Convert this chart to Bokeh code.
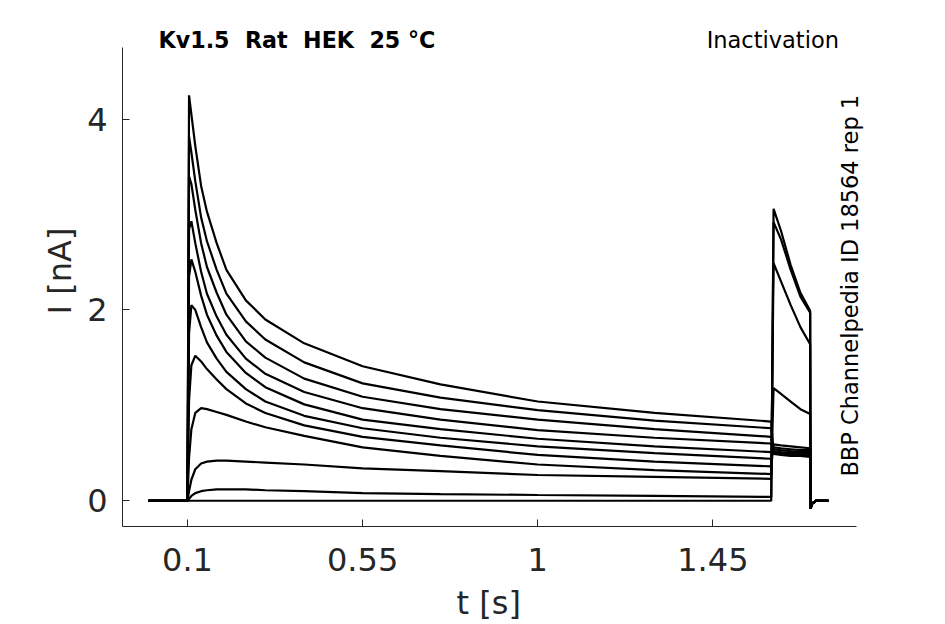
import math
from bokeh.plotting import figure
from bokeh.models import Range1d, FixedTicker, Label
from bokeh.embed import file_html
from bokeh.resources import INLINE

# ---------------- data ----------------
# time grid of the 1.5 s conditioning step (s)
t_pre = [0.100, 0.104, 0.110, 0.120, 0.135, 0.150, 0.175, 0.200, 0.250,
         0.300, 0.400, 0.550, 0.750, 1.000, 1.300, 1.600]
# current during conditioning step (nA), one list per sweep
pre_1 = [0, 4.25, 4.05, 3.72, 3.30, 3.03, 2.70, 2.42, 2.10, 1.90, 1.65, 1.41, 1.22, 1.04, 0.92, 0.83]
pre_2 = [0, 3.82, 3.65, 3.35, 2.97, 2.72, 2.42, 2.17, 1.88, 1.69, 1.45, 1.23, 1.08, 0.95, 0.84, 0.76]
pre_3 = [0, 3.40, 3.32, 3.05, 2.70, 2.45, 2.18, 1.95, 1.67, 1.50, 1.28, 1.09, 0.96, 0.85, 0.75, 0.67]
pre_4 = [0, 2.85, 2.93, 2.70, 2.40, 2.17, 1.93, 1.74, 1.49, 1.33, 1.14, 0.97, 0.85, 0.74, 0.66, 0.60]
pre_5 = [0, 2.35, 2.53, 2.40, 2.15, 1.95, 1.73, 1.56, 1.34, 1.19, 1.01, 0.85, 0.75, 0.65, 0.57, 0.51]
pre_6 = [0, 1.75, 2.05, 2.00, 1.82, 1.66, 1.49, 1.35, 1.17, 1.04, 0.89, 0.76, 0.66, 0.57, 0.50, 0.44]
pre_7 = [0, 1.05, 1.42, 1.52, 1.46, 1.38, 1.27, 1.17, 1.02, 0.92, 0.79, 0.67, 0.58, 0.48, 0.41, 0.36]
pre_8 = [0, 0.45, 0.75, 0.92, 0.97, 0.96, 0.93, 0.90, 0.83, 0.77, 0.68, 0.56, 0.47, 0.38, 0.32, 0.28]
pre_9 = [0, 0.10, 0.22, 0.33, 0.39, 0.41, 0.42, 0.42, 0.41, 0.40, 0.38, 0.34, 0.31, 0.27, 0.25, 0.23]
pre_10 = [0, 0.02, 0.05, 0.08, 0.10, 0.11, 0.12, 0.12, 0.12, 0.11, 0.10, 0.08, 0.07, 0.06, 0.05, 0.04]
pre_11 = [0, 0.00, 0.00, 0.00, 0.00, 0.00, 0.00, 0.00, 0.00, 0.00, 0.00, 0.00, 0.00, 0.00, 0.00, 0.00]

# time grid of the test pulse (s)
t_test = [1.606, 1.625, 1.650, 1.675, 1.700]
test_1 = [0.49, 0.48, 0.47, 0.47, 0.46]
test_2 = [0.50, 0.49, 0.48, 0.48, 0.47]
test_3 = [0.51, 0.50, 0.49, 0.49, 0.48]
test_4 = [0.52, 0.51, 0.50, 0.50, 0.49]
test_5 = [0.54, 0.53, 0.52, 0.51, 0.51]
test_6 = [0.56, 0.55, 0.54, 0.53, 0.53]
test_7 = [0.59, 0.58, 0.57, 0.56, 0.55]
test_8 = [1.18, 1.12, 1.04, 0.96, 0.91]
test_9 = [2.49, 2.30, 2.05, 1.82, 1.64]
test_10 = [2.92, 2.74, 2.42, 2.14, 1.97]
test_11 = [3.06, 2.83, 2.47, 2.18, 1.99]

# holding before the step and tail after the test pulse
t_hold = [0.0]
hold_vals = [0.0]
t_tail = [1.701, 1.705, 1.715, 1.747]
tail_vals = [-0.08, -0.03, 0.0, 0.0]

pre_sweeps = [pre_1, pre_2, pre_3, pre_4, pre_5, pre_6, pre_7, pre_8, pre_9, pre_10, pre_11]
test_sweeps = [test_1, test_2, test_3, test_4, test_5, test_6, test_7, test_8, test_9, test_10, test_11]

x_ticks = [0.1, 0.55, 1.0, 1.45]
x_tick_labels = ["0.1", "0.55", "1", "1.45"]
y_ticks = [0, 2, 4]
y_tick_labels = ["0", "2", "4"]

NB = "\u00a0"
title_text = "Kv1.5" + NB + " Rat" + NB + " HEK" + NB + " 25 °C"
right_title = "Inactivation"
side_text = "BBP Channelpedia ID 18564 rep 1"
x_label = "t [s]"
y_label = "I [nA]"

# ---------------- figure ----------------
FONT = "DejaVu Sans"
AX = "#262626"
X_LEFT, X_AXIS_END = -0.067, 1.819
Y_AXIS_TOP = 4.75
Y_BOTTOM = -0.27

p = figure(width=945, height=624,
           x_range=Range1d(X_LEFT, 1.8936), y_range=Range1d(Y_BOTTOM, 5.086),
           output_backend="svg", toolbar_location=None,
           min_border_left=122, min_border_right=60,
           min_border_top=15, min_border_bottom=98)
p.outline_line_color = None
p.xgrid.visible = False
p.ygrid.visible = False
p.background_fill_color = "white"
p.border_fill_color = "white"

for pre, test in zip(pre_sweeps, test_sweeps):
    t = t_hold + t_pre + t_test + t_tail
    v = hold_vals + pre + test + tail_vals
    p.line(t, v, line_color="black", line_width=2.2)

for ax in (p.xaxis[0], p.yaxis[0]):
    ax.axis_line_color = AX
    ax.axis_line_width = 1
    ax.major_tick_line_color = AX
    ax.major_tick_in = 7
    ax.major_tick_out = 0
    ax.minor_tick_line_color = None
    ax.major_label_text_font = FONT
    ax.major_label_text_font_size = "32px"
    ax.major_label_text_color = AX
    ax.major_label_text_line_height = 1.0
    ax.axis_label_text_font = FONT
    ax.axis_label_text_font_size = "32px"
    ax.axis_label_text_font_style = "normal"
    ax.axis_label_text_color = AX
    ax.axis_label_text_line_height = 1.0

xa = p.xaxis[0]
xa.ticker = FixedTicker(ticks=x_ticks)
xa.major_label_overrides = {k: s for k, s in zip(x_ticks, x_tick_labels)}
xa.major_label_standoff = 21
# the frame reaches past the axis end, so pad the label to centre it under the axis
xa.axis_label = x_label + NB * 3
xa.axis_label_standoff = 10
xa.bounds = (X_LEFT, X_AXIS_END)

ya = p.yaxis[0]
ya.ticker = FixedTicker(ticks=y_ticks)
ya.major_label_overrides = {k: s for k, s in zip(y_ticks, y_tick_labels)}
ya.major_label_standoff = 15
ya.axis_label = y_label
ya.axis_label_standoff = 5
ya.bounds = (Y_BOTTOM, Y_AXIS_TOP)

p.add_layout(Label(x=0.0256, y=4.832, text=title_text, text_align="left",
                   text_baseline="middle", text_font=FONT, text_font_size="22.2px",
                   text_font_style="bold", text_color="black"))
p.add_layout(Label(x=1.774, y=4.832, text=right_title, text_align="right",
                   text_baseline="middle", text_font=FONT, text_font_size="22.5px",
                   text_color="black"))
p.add_layout(Label(x=1.802, y=2.254, text=side_text, angle=math.pi / 2,
                   text_align="center", text_baseline="middle", text_font=FONT,
                   text_font_size="22.5px", text_color="black"))

open("out.html", "w").write(file_html(p, INLINE))
